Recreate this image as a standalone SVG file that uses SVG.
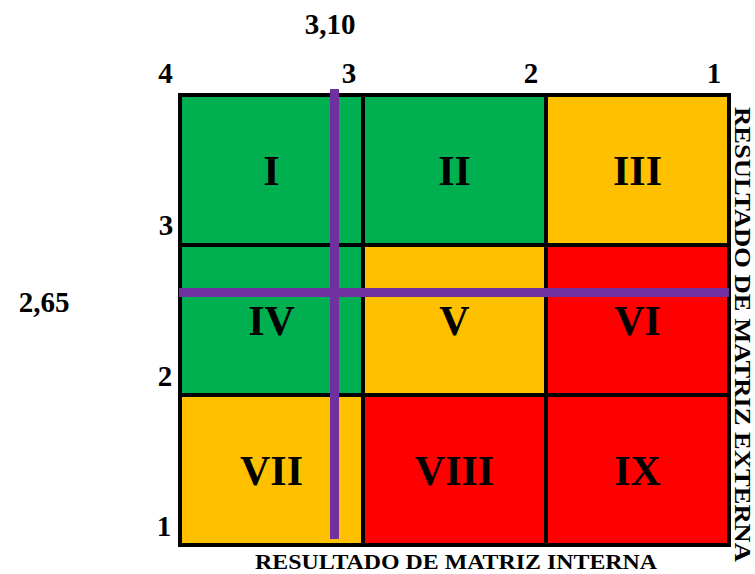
<svg xmlns="http://www.w3.org/2000/svg" width="755" height="574" viewBox="0 0 755 574">
<style>
text{font-family:"Liberation Serif","Times New Roman",serif;font-weight:bold;fill:#000}
.num{font-size:29px;text-anchor:middle}
.rom{font-size:42px;text-anchor:middle}
.g{fill:#00B050}.y{fill:#FFC000}.r{fill:#FF0000}
.grid{stroke:#000;stroke-width:4;fill:none}
.pl{stroke:#7030A0;stroke-width:9}
</style>
<rect width="755" height="574" fill="#fff"/>
<g id="cells">
<g id="cell-I"><rect class="g" x="180" y="95" width="183" height="150"/><text class="rom" x="271.5" y="185">I</text></g>
<g id="cell-II"><rect class="g" x="363" y="95" width="183" height="150"/><text class="rom" x="454.5" y="185">II</text></g>
<g id="cell-III"><rect class="y" x="546" y="95" width="183" height="150"/><text class="rom" x="637.5" y="185">III</text></g>
<g id="cell-IV"><rect class="g" x="180" y="245" width="183" height="150"/><text class="rom" x="271.5" y="335">IV</text></g>
<g id="cell-V"><rect class="y" x="363" y="245" width="183" height="150"/><text class="rom" x="454.5" y="335">V</text></g>
<g id="cell-VI"><rect class="r" x="546" y="245" width="183" height="150"/><text class="rom" x="637.5" y="335">VI</text></g>
<g id="cell-VII"><rect class="y" x="180" y="395" width="183" height="150"/><text class="rom" x="271.5" y="485">VII</text></g>
<g id="cell-VIII"><rect class="r" x="363" y="395" width="183" height="150"/><text class="rom" x="454.5" y="485">VIII</text></g>
<g id="cell-IX"><rect class="r" x="546" y="395" width="183" height="150"/><text class="rom" x="637.5" y="485">IX</text></g>
</g>
<g id="grid">
<rect class="grid" x="180" y="95" width="549" height="450"/>
<path class="grid" d="M363 95V545M546 95V545M180 245H729M180 395H729"/>
</g>
<g id="connectors">
<line class="pl" x1="334.5" y1="89" x2="334.5" y2="539"/>
<line class="pl" x1="179" y1="292.5" x2="729" y2="292.5"/>
</g>
<g id="labels">
<text class="num" x="330" y="34">3,10</text>
<text class="num" x="165.5" y="83">4</text>
<text class="num" x="349" y="83">3</text>
<text class="num" x="531" y="83">2</text>
<text class="num" x="714" y="83">1</text>
<text class="num" x="166" y="235">3</text>
<text class="num" x="165" y="386">2</text>
<text class="num" x="164" y="536">1</text>
<text class="num" x="44" y="312">2,65</text>
<text x="255" y="569" font-size="21" textLength="402" lengthAdjust="spacingAndGlyphs">RESULTADO DE MATRIZ INTERNA</text>
<text transform="translate(735,107) rotate(90)" x="0" y="0" font-size="23.5" textLength="455" lengthAdjust="spacingAndGlyphs">RESULTADO DE MATRIZ EXTERNA</text>
</g>
</svg>
